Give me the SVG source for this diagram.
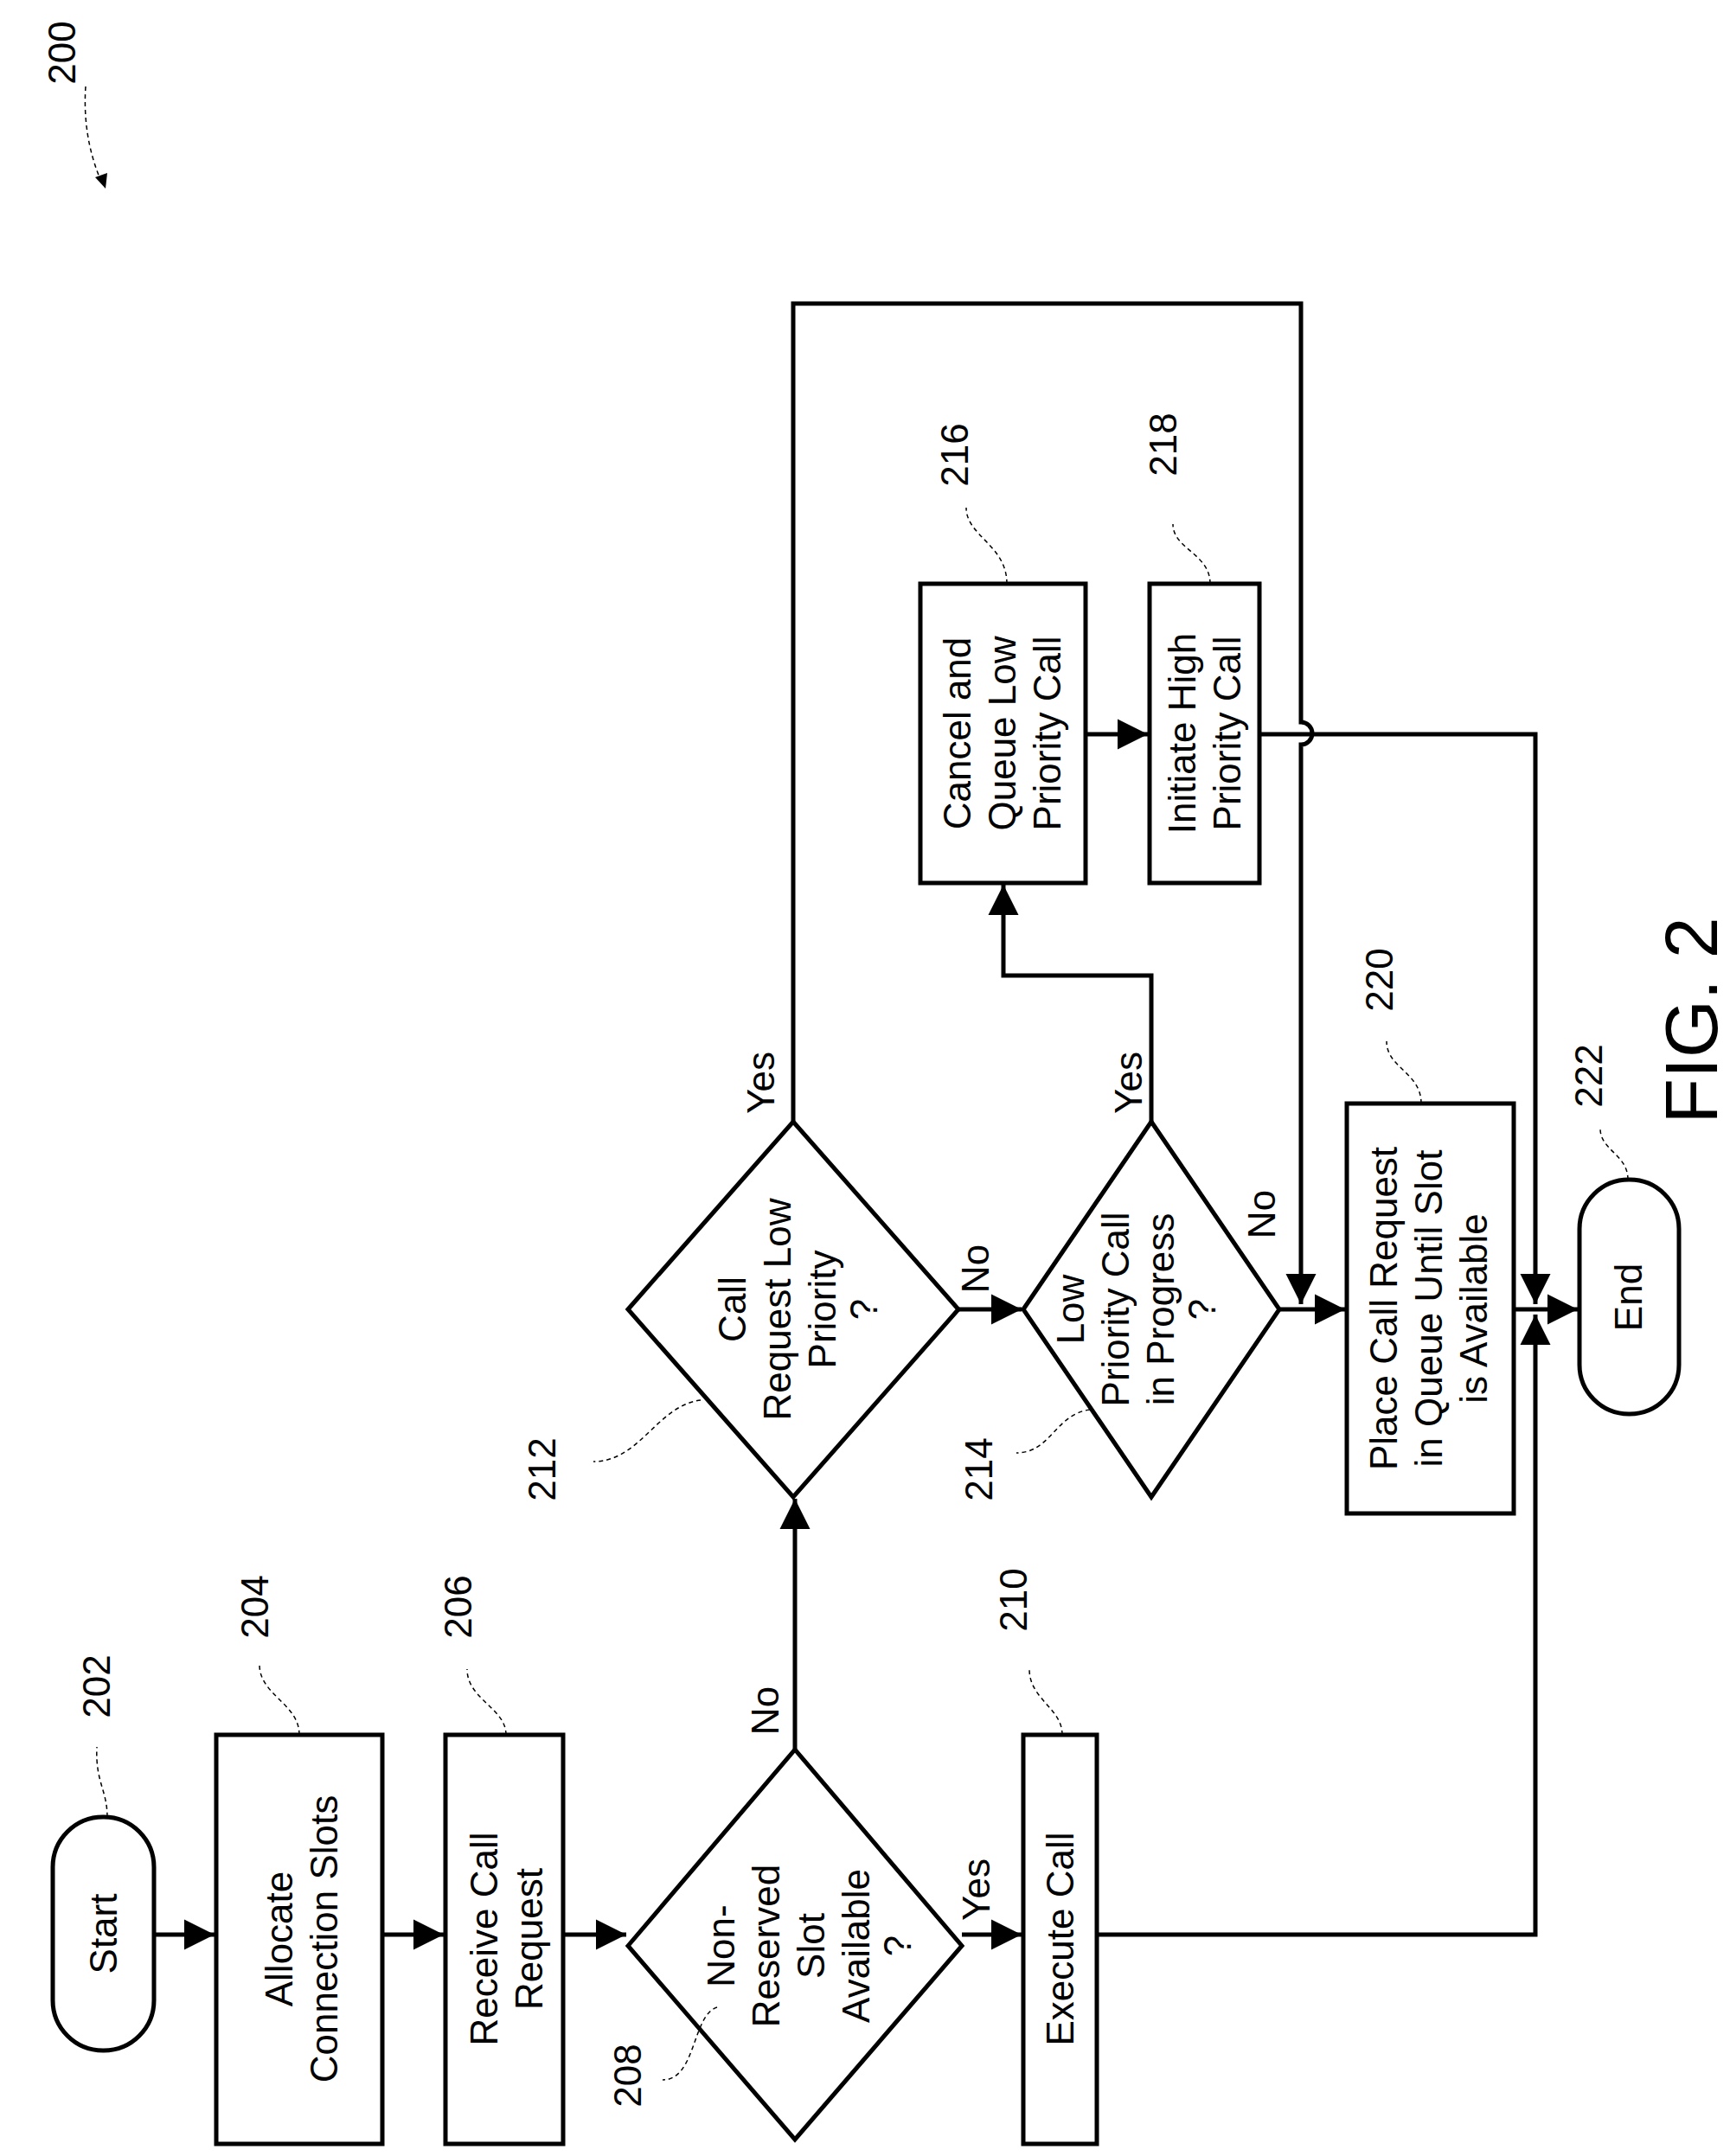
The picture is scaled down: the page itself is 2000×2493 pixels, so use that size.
<svg xmlns="http://www.w3.org/2000/svg" width="2000" height="2493" viewBox="0 0 2000 2493">
<style>
.s{fill:#fff;stroke:#000;stroke-width:5}
.c{fill:none;stroke:#000;stroke-width:5}
.d{fill:none;stroke:#000;stroke-width:1.5;stroke-dasharray:5 4}
text{font-family:"Liberation Sans",Arial,sans-serif;font-size:44px;fill:#000;text-anchor:middle}
</style>
<defs>
<marker id="a" markerWidth="8" markerHeight="8" refX="7" refY="4" orient="auto" markerUnits="strokeWidth"><path d="M0,0.5 L7,4 L0,7.5z" fill="#000"/></marker>
</defs>
<g id="connectors">
<path class="c" d="M179,2237 H248" marker-end="url(#a)"/>
<path class="c" d="M442,2237 H513" marker-end="url(#a)"/>
<path class="c" d="M651,2237 H724" marker-end="url(#a)"/>
<path class="c" d="M1112,2237 H1181" marker-end="url(#a)"/>
<path class="c" d="M919,2023 V1733" marker-end="url(#a)"/>
<path class="c" d="M1108,1514 H1181" marker-end="url(#a)"/>
<path class="c" d="M1479,1514 H1555" marker-end="url(#a)"/>
<path class="c" d="M1750,1514 H1824" marker-end="url(#a)"/>
<path class="c" d="M917,1297 V351 H1504 V835 A13,13 0 0 1 1504,861 V1508" marker-end="url(#a)"/>
<path class="c" d="M1331,1297 V1128 H1160 V1023" marker-end="url(#a)"/>
<path class="c" d="M1255,849 H1327" marker-end="url(#a)"/>
<path class="c" d="M1456,849 H1775 V1508" marker-end="url(#a)"/>
<path class="c" d="M1268,2237 H1775 V1520" marker-end="url(#a)"/>
<path class="d" d="M99,100 Q95,160 118,212"/>
<path d="M110,205 L122,218 L124,200z" fill="#000"/>
</g>
<g id="n202"><rect class="s" x="61" y="2101" width="117" height="270" rx="58"/><text transform="translate(120,2236) rotate(-90)" dy="15">Start</text>
<path class="d" d="M124,2101 C124,2070 110,2060 112,2020"/><text transform="translate(112,1950) rotate(-90)" dy="15">202</text></g>
<g id="n204"><rect class="s" x="250" y="2006" width="192" height="473"/><text transform="translate(346,2242) rotate(-90)"><tspan x="0" dy="-8">Allocate</tspan><tspan x="0" dy="52">Connection Slots</tspan></text>
<path class="d" d="M346,2006 C346,1970 300,1960 300,1925"/><text transform="translate(295,1858) rotate(-90)" dy="15">204</text></g>
<g id="n206"><rect class="s" x="515" y="2006" width="136" height="473"/><text transform="translate(583,2242) rotate(-90)"><tspan x="0" dy="-8">Receive Call</tspan><tspan x="0" dy="52">Request</tspan></text>
<path class="d" d="M585,2006 C585,1975 540,1965 540,1930"/><text transform="translate(530,1858) rotate(-90)" dy="15">206</text></g>
<g id="n208"><polygon class="s" points="726,2250 919,2023 1112,2250 919,2474"/><text transform="translate(919,2250) rotate(-90)"><tspan x="0" dy="-70">Non-</tspan><tspan x="0" dy="52">Reserved</tspan><tspan x="0" dy="52">Slot</tspan><tspan x="0" dy="52">Available</tspan><tspan x="0" dy="48">?</tspan></text>
<path class="d" d="M829,2321 C800,2330 805,2405 766,2405"/><text transform="translate(726,2400) rotate(-90)" dy="15">208</text></g>
<g id="n210"><rect class="s" x="1183" y="2006" width="85" height="473"/><text transform="translate(1226,2242) rotate(-90)" dy="15">Execute Call</text>
<path class="d" d="M1228,2006 C1228,1975 1190,1965 1190,1930"/><text transform="translate(1172,1850) rotate(-90)" dy="15">210</text></g>
<g id="n212"><polygon class="s" points="726,1514 917,1297 1108,1514 917,1731"/><text transform="translate(917,1514) rotate(-90)"><tspan x="0" dy="-55">Call</tspan><tspan x="0" dy="52">Request Low</tspan><tspan x="0" dy="52">Priority</tspan><tspan x="0" dy="48">?</tspan></text>
<path class="d" d="M810,1619 C760,1625 740,1690 686,1690"/><text transform="translate(627,1699) rotate(-90)" dy="15">212</text></g>
<g id="n214"><polygon class="s" points="1183,1514 1331,1297 1479,1514 1331,1731"/><text transform="translate(1331,1514) rotate(-90)"><tspan x="0" dy="-78">Low</tspan><tspan x="0" dy="52">Priority Call</tspan><tspan x="0" dy="52">in Progress</tspan><tspan x="0" dy="48">?</tspan></text>
<path class="d" d="M1260,1630 C1220,1635 1215,1680 1175,1680"/><text transform="translate(1132,1699) rotate(-90)" dy="15">214</text></g>
<g id="n216"><rect class="s" x="1064" y="675" width="191" height="346"/><text transform="translate(1160,848) rotate(-90)"><tspan x="0" dy="-38">Cancel and</tspan><tspan x="0" dy="52">Queue Low</tspan><tspan x="0" dy="52">Priority Call</tspan></text>
<path class="d" d="M1164,675 C1164,630 1117,620 1117,587"/><text transform="translate(1104,526) rotate(-90)" dy="15">216</text></g>
<g id="n218"><rect class="s" x="1329" y="675" width="127" height="346"/><text transform="translate(1392,848) rotate(-90)"><tspan x="0" dy="-10">Initiate High</tspan><tspan x="0" dy="52">Priority Call</tspan></text>
<path class="d" d="M1399,675 C1399,640 1356,635 1356,606"/><text transform="translate(1345,514) rotate(-90)" dy="15">218</text></g>
<g id="n220"><rect class="s" x="1557" y="1276" width="193" height="474"/><text transform="translate(1653,1513) rotate(-90)"><tspan x="0" dy="-38">Place Call Request</tspan><tspan x="0" dy="52">in Queue Until Slot</tspan><tspan x="0" dy="52">is Available</tspan></text>
<path class="d" d="M1643,1276 C1643,1240 1603,1235 1603,1204"/><text transform="translate(1595,1133) rotate(-90)" dy="15">220</text></g>
<g id="n222"><rect class="s" x="1826" y="1364" width="115" height="271" rx="57"/><text transform="translate(1883,1500) rotate(-90)" dy="15">End</text>
<path class="d" d="M1882,1364 C1882,1335 1850,1330 1850,1305"/><text transform="translate(1837,1244) rotate(-90)" dy="15">222</text></g>
<g id="labels">
<text transform="translate(1129,2185) rotate(-90)" dy="15">Yes</text>
<text transform="translate(885,1978) rotate(-90)" dy="15">No</text>
<text transform="translate(880,1252) rotate(-90)" dy="15">Yes</text>
<text transform="translate(1128,1467) rotate(-90)" dy="15">No</text>
<text transform="translate(1305,1252) rotate(-90)" dy="15">Yes</text>
<text transform="translate(1459,1404) rotate(-90)" dy="15">No</text>
<text transform="translate(1955,1180) rotate(-90)" dy="30" style="font-size:86px">FIG. 2</text>
<text transform="translate(72,61) rotate(-90)" dy="15">200</text>
</g>
</svg>
